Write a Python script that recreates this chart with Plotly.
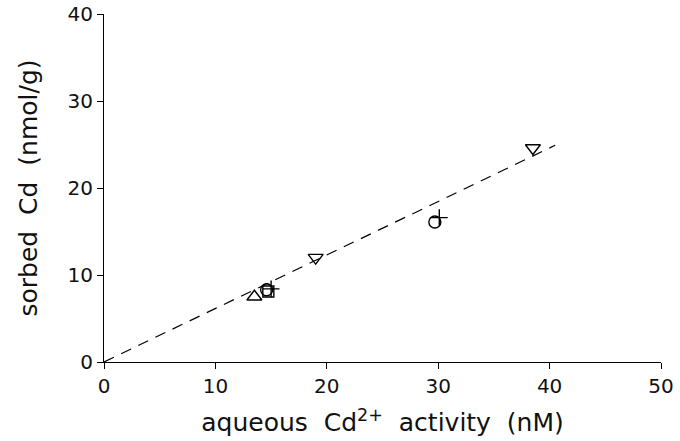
import plotly.graph_objects as go

# data
tri_up_x = [13.5]
tri_up_y = [7.5]
square_x = [14.75]
square_y = [8.1]
circle_x = [14.6, 29.7]
circle_y = [8.3, 16.1]
plus_x = [15.0, 30.1]
plus_y = [8.4, 16.6]
tri_down_x = [19.0, 38.5]
tri_down_y = [12.0, 24.6]
fit_x = [0, 40.5]
fit_slope = 0.615
fit_y = [fit_slope * v for v in fit_x]

x_ticks = [0, 10, 20, 30, 40, 50]
y_ticks = [0, 10, 20, 30, 40]

fig = go.Figure()
fig.add_trace(go.Scatter(x=fit_x, y=fit_y, mode="lines",
                         line=dict(color="black", width=1.2, dash="11px,8px"),
                         showlegend=False))

mk = dict(color="black", size=13, line=dict(color="black", width=1.4))
fig.add_trace(go.Scatter(x=tri_up_x, y=tri_up_y, mode="markers",
                         marker=dict(mk, symbol="triangle-up-open"), showlegend=False))
fig.add_trace(go.Scatter(x=square_x, y=square_y, mode="markers",
                         marker=dict(mk, symbol="square-open", size=11), showlegend=False))
fig.add_trace(go.Scatter(x=circle_x, y=circle_y, mode="markers",
                         marker=dict(mk, symbol="circle-open", size=12), showlegend=False))
fig.add_trace(go.Scatter(x=plus_x, y=plus_y, mode="markers",
                         marker=dict(mk, symbol="cross-thin-open", size=12), showlegend=False))
fig.add_trace(go.Scatter(x=tri_down_x, y=tri_down_y, mode="markers",
                         marker=dict(mk, symbol="triangle-down-open"), showlegend=False))

font = dict(family="DejaVu Sans, Verdana, sans-serif", size=20, color="#111111")
title_font = dict(family="DejaVu Sans, Verdana, sans-serif", size=25, color="#111111")
fig.update_layout(
    width=680, height=441,
    margin=dict(l=104, r=19, t=14, b=79),
    paper_bgcolor="white", plot_bgcolor="white",
    font=font,
)
fig.update_xaxes(range=[0, 50], tickvals=x_ticks, ticks="outside", ticklen=6,
                 tickcolor="black", showline=True, linecolor="black", linewidth=1,
                 showgrid=False, zeroline=False, tickfont=font, automargin=False,
                 title=dict(text="aqueous  Cd<sup>2+</sup>  activity  (nM)", standoff=16,
                            font=title_font))
fig.update_yaxes(range=[0, 40], tickvals=y_ticks, ticks="outside", ticklen=6,
                 tickcolor="black", showline=True, linecolor="black", linewidth=1,
                 showgrid=False, zeroline=False, tickfont=font, automargin=False,
                 title=dict(text="sorbed  Cd  (nmol/g)", standoff=22, font=title_font))

fig.write_html("out.html")
